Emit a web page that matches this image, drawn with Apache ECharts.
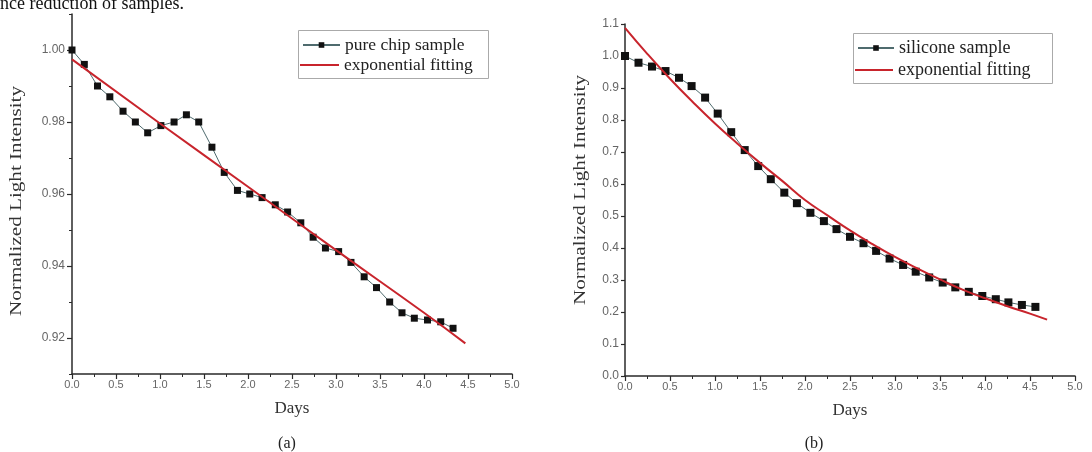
<!DOCTYPE html>
<html>
<head>
<meta charset="utf-8">
<script src="https://cdn.jsdelivr.net/npm/echarts@6/dist/echarts.min.js"></script>
<style>
html,body{margin:0;padding:0;background:#fff;}
#chart{width:1092px;height:452px;}
</style>
</head>
<body>
<div id="chart"></div>
<script>
// ---- data ----
const pureDays = [0.00,0.14,0.29,0.43,0.58,0.72,0.86,1.01,1.16,1.30,1.44,1.59,1.73,1.88,2.02,2.16,2.31,2.45,2.60,2.74,2.88,3.03,3.17,3.32,3.46,3.61,3.75,3.89,4.04,4.19,4.33];
const pureIntensity = [1.000,0.996,0.990,0.987,0.983,0.980,0.977,0.979,0.980,0.982,0.980,0.973,0.966,0.961,0.960,0.959,0.957,0.955,0.952,0.948,0.945,0.944,0.941,0.937,0.934,0.930,0.927,0.9255,0.925,0.9245,0.9227];
const pureFitDays = [0, 1, 2, 3, 4, 4.47];
const pureFitValues = [0.9974, 0.9796, 0.9620, 0.9444, 0.9270, 0.9185];

const siliDays = [0.00,0.15,0.30,0.45,0.60,0.74,0.89,1.03,1.18,1.33,1.48,1.62,1.77,1.91,2.06,2.21,2.35,2.50,2.65,2.79,2.94,3.09,3.23,3.38,3.53,3.67,3.82,3.97,4.12,4.26,4.41,4.56];
const siliIntensity = [1.000,0.979,0.967,0.953,0.932,0.906,0.870,0.820,0.762,0.706,0.656,0.615,0.573,0.540,0.510,0.484,0.459,0.435,0.415,0.391,0.367,0.347,0.326,0.308,0.292,0.277,0.263,0.250,0.240,0.230,0.222,0.216];
const siliFitDays = [0,0.25,0.5,0.75,1.0,1.25,1.5,1.75,2.0,2.25,2.5,2.75,3.0,3.25,3.5,3.75,4.0,4.25,4.5,4.69];
const siliFitValues = [1.088,1.006,0.929,0.857,0.789,0.726,0.666,0.609,0.550,0.502,0.455,0.412,0.372,0.336,0.302,0.270,0.243,0.218,0.195,0.176];

const leftMajorTicks = [0.92,0.94,0.96,0.98,1.00];
const leftMinorTicks = [0.91,0.93,0.95,0.97,0.99,1.01];

const seriesNames = ['pure chip sample','silicone sample','exponential fitting'];
const yName = 'Normalized Light Intensity';
const xName = 'Days';
const captions = ['(a)','(b)'];
const topText = 'nce reduction of samples.';

// ---- styles ----
const SERIF = '"Liberation Serif","Times New Roman",serif';
const SANS = '"Liberation Sans",Arial,sans-serif';
const axisColor = '#2a2a2a';
const tickLabelColor = '#666';
const red = '#c8242c';
const dataLine = '#4f6b6e';

function pairs(xs, ys){ return xs.map((x,i)=>[x, ys[i]]); }

function xAxisDef(grid){
  return {
    type:'value', gridIndex:grid, min:0, max:5, interval:0.5,
    name:xName, nameLocation:'middle', nameGap:26,
    nameTextStyle:{fontFamily:SERIF, fontSize:17, color:'#333'},
    axisLine:{show:true, onZero:false, lineStyle:{color:axisColor, width:1.5}},
    axisTick:{show:true, inside:false, length:5, lineStyle:{color:axisColor, width:1.2}},
    minorTick:{show:true, splitNumber:2, length:3, lineStyle:{color:axisColor, width:1}},
    axisLabel:{margin:5, fontFamily:SANS, fontSize:11, color:tickLabelColor, formatter:v=>v.toFixed(1)},
    splitLine:{show:false}
  };
}

function legendItem(name, left, top, isFit, width, size){
  return {
    left:left, top:top, orient:'vertical', padding:0,
    itemWidth:width, itemHeight:isFit ? 2 : 7,
    icon: isFit ? 'rect' : undefined,
    textStyle:{fontFamily:SERIF, fontSize:size, color:'#222'},
    data:[name]
  };
}

const chart = echarts.init(document.getElementById('chart'), null, {renderer:'canvas'});
const option = {
  animation:false,
  backgroundColor:'#fff',
  grid:[
    {left:72, right:580, top:14, bottom:78},
    {left:625, right:17, top:24, bottom:76}
  ],
  xAxis:[ xAxisDef(0), xAxisDef(1) ],
  yAxis:[
    {
      type:'value', gridIndex:0, min:0.91, max:1.01,
      axisLine:{show:true, onZero:false, lineStyle:{color:axisColor, width:1.5}},
      axisTick:{show:true, length:5, customValues:leftMajorTicks, lineStyle:{color:axisColor, width:1.2}},
      axisLabel:{margin:7, fontFamily:SANS, fontSize:12, color:tickLabelColor, customValues:leftMajorTicks, formatter:v=>v.toFixed(2)},
      splitLine:{show:false}
    },
    {
      type:'value', gridIndex:0, min:0.91, max:1.01, position:'left',
      axisLine:{show:false},
      axisTick:{show:true, length:3, customValues:leftMinorTicks, lineStyle:{color:axisColor, width:1}},
      axisLabel:{show:false},
      splitLine:{show:false}
    },
    {
      type:'value', gridIndex:1, min:0, max:1.1, interval:0.1,
      axisLine:{show:true, onZero:false, lineStyle:{color:axisColor, width:1.5}},
      axisTick:{show:true, length:4, lineStyle:{color:axisColor, width:1.2}},
      axisLabel:{margin:6, fontFamily:SANS, fontSize:12, color:tickLabelColor, formatter:v=>v.toFixed(1)},
      splitLine:{show:false}
    }
  ],
  legend:[
    legendItem(seriesNames[0], 302, 36, false, 37, 17.5),
    legendItem(seriesNames[2], 300, 56, true, 39, 17.5),
    legendItem(seriesNames[1], 857, 39, false, 36, 18),
    legendItem(seriesNames[2], 855, 61, true, 38, 18)
  ],
  series:[
    {
      name:seriesNames[0], type:'line', xAxisIndex:0, yAxisIndex:0,
      data:pairs(pureDays, pureIntensity),
      symbol:'rect', symbolSize:7, showSymbol:true,
      itemStyle:{color:'#111'},
      lineStyle:{color:dataLine, width:1},
      z:2
    },
    {
      name:seriesNames[2], type:'line', xAxisIndex:0, yAxisIndex:0,
      data:pairs(pureFitDays, pureFitValues),
      symbol:'none', smooth:true,
      itemStyle:{color:red},
      lineStyle:{color:red, width:2},
      z:3
    },
    {
      name:seriesNames[1], type:'line', xAxisIndex:1, yAxisIndex:2,
      data:pairs(siliDays, siliIntensity),
      symbol:'rect', symbolSize:8, showSymbol:true,
      itemStyle:{color:'#111'},
      lineStyle:{color:dataLine, width:1},
      z:2
    },
    {
      name:seriesNames[2], type:'line', xAxisIndex:1, yAxisIndex:2,
      data:pairs(siliFitDays, siliFitValues),
      symbol:'none', smooth:true,
      itemStyle:{color:red},
      lineStyle:{color:red, width:2},
      z:3
    }
  ],
  graphic:[
    {type:'text', x:0, y:13, style:{text:topText, font:'18px '+SERIF, fill:'#111', textVerticalAlign:'bottom'}},
    {type:'rect', shape:{x:298.5, y:30.5, width:190, height:48}, style:{fill:null, stroke:'#aaa', lineWidth:1}, z:-1},
    {type:'rect', shape:{x:853.5, y:33.5, width:199, height:50}, style:{fill:null, stroke:'#aaa', lineWidth:1}, z:-1},
    {type:'text', x:17, y:201, rotation:Math.PI/2, scaleX:1.32,
      style:{text:yName, font:'16px '+SERIF, fill:'#333', textAlign:'center', textVerticalAlign:'middle'}},
    {type:'text', x:581, y:190, rotation:Math.PI/2, scaleX:1.32,
      style:{text:yName, font:'16px '+SERIF, fill:'#333', textAlign:'center', textVerticalAlign:'middle'}},
    {type:'text', x:287, y:444, style:{text:captions[0], font:'16px '+SERIF, fill:'#222', textAlign:'center', textVerticalAlign:'middle'}},
    {type:'text', x:814, y:444, style:{text:captions[1], font:'16px '+SERIF, fill:'#222', textAlign:'center', textVerticalAlign:'middle'}}
  ]
};
chart.setOption(option);
</script>
</body>
</html>
